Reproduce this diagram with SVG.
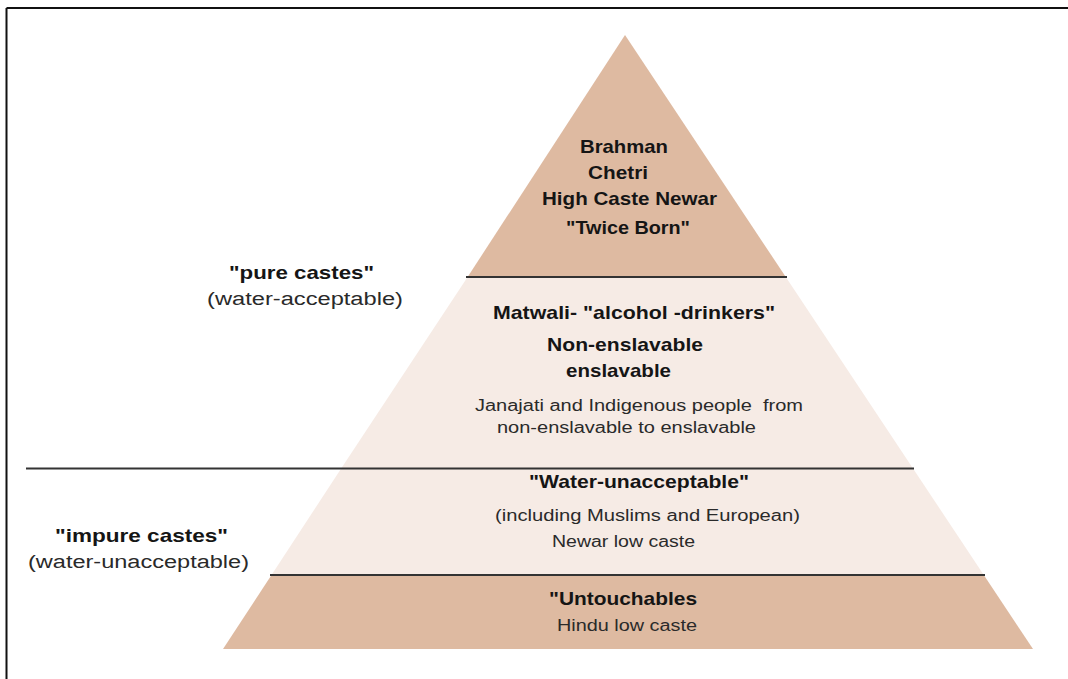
<svg xmlns="http://www.w3.org/2000/svg" width="1068" height="679" viewBox="0 0 1068 679">
<style>
.dark{fill:#DEBAA1}
.light{fill:#F6EBE5}
.b{font-family:"Liberation Sans",Arial,sans-serif;font-weight:bold;font-size:19px;fill:#151515}
.r{font-family:"Liberation Sans",Arial,sans-serif;font-size:16px;fill:#2a2a2a}
.rl{font-family:"Liberation Sans",Arial,sans-serif;font-size:18px;fill:#2a2a2a}
.div{stroke:#333;stroke-width:2;fill:none}
</style>
<rect width="1068" height="679" fill="#fff"/>
<g id="frame" stroke="#111" stroke-width="2" fill="none">
<line x1="6.5" y1="8" x2="1068" y2="8"/>
<line x1="6.5" y1="8" x2="6.5" y2="679"/>
</g>
<g id="tier1">
<polygon class="dark" points="625,35 785.8,277 467.6,277"/>
<text class="b" x="580" y="153" textLength="88" lengthAdjust="spacingAndGlyphs">Brahman</text>
<text class="b" x="588" y="179" textLength="60" lengthAdjust="spacingAndGlyphs">Chetri</text>
<text class="b" x="542" y="205" textLength="175" lengthAdjust="spacingAndGlyphs">High Caste Newar</text>
<text class="b" x="566" y="234" textLength="124" lengthAdjust="spacingAndGlyphs">"Twice Born"</text>
</g>
<g id="tier2">
<polygon class="light" points="467.6,277 785.8,277 912.7,468 341.5,468"/>
<text class="b" x="493" y="319" textLength="282" lengthAdjust="spacingAndGlyphs">Matwali- "alcohol -drinkers"</text>
<text class="b" x="547" y="351" textLength="156" lengthAdjust="spacingAndGlyphs">Non-enslavable</text>
<text class="b" x="566" y="377" textLength="105" lengthAdjust="spacingAndGlyphs">enslavable</text>
<text class="r" x="475" y="411" textLength="328" lengthAdjust="spacingAndGlyphs" xml:space="preserve">Janajati and Indigenous people  from</text>
<text class="r" x="497" y="433" textLength="259" lengthAdjust="spacingAndGlyphs">non-enslavable to enslavable</text>
</g>
<g id="tier3">
<polygon class="light" points="341.5,468 912.7,468 983.8,575 271.5,575"/>
<text class="b" x="529" y="488" textLength="220" lengthAdjust="spacingAndGlyphs">"Water-unacceptable"</text>
<text class="r" x="495" y="521" textLength="305" lengthAdjust="spacingAndGlyphs">(including Muslims and European)</text>
<text class="r" x="552" y="547" textLength="143" lengthAdjust="spacingAndGlyphs">Newar low caste</text>
</g>
<g id="tier4">
<polygon class="dark" points="271.5,575 983.8,575 1033,649 223,649"/>
<text class="b" x="549" y="605" textLength="148" lengthAdjust="spacingAndGlyphs">"Untouchables</text>
<text class="r" x="557" y="631" textLength="140" lengthAdjust="spacingAndGlyphs">Hindu low caste</text>
</g>
<g id="label-pure">
<text class="b" x="229" y="279" textLength="145" lengthAdjust="spacingAndGlyphs">"pure castes"</text>
<text class="rl" x="207" y="305" textLength="196" lengthAdjust="spacingAndGlyphs">(water-acceptable)</text>
</g>
<g id="label-impure">
<text class="b" x="55" y="542" textLength="173" lengthAdjust="spacingAndGlyphs">"impure castes"</text>
<text class="rl" x="28" y="568" textLength="221" lengthAdjust="spacingAndGlyphs">(water-unacceptable)</text>
</g>
<g id="dividers">
<line class="div" x1="466" y1="277" x2="787" y2="277" stroke="#222"/>
<line class="div" x1="26" y1="468.5" x2="914" y2="468.5" stroke="#444"/>
<line class="div" x1="270" y1="575" x2="985" y2="575"/>
</g>
</svg>
